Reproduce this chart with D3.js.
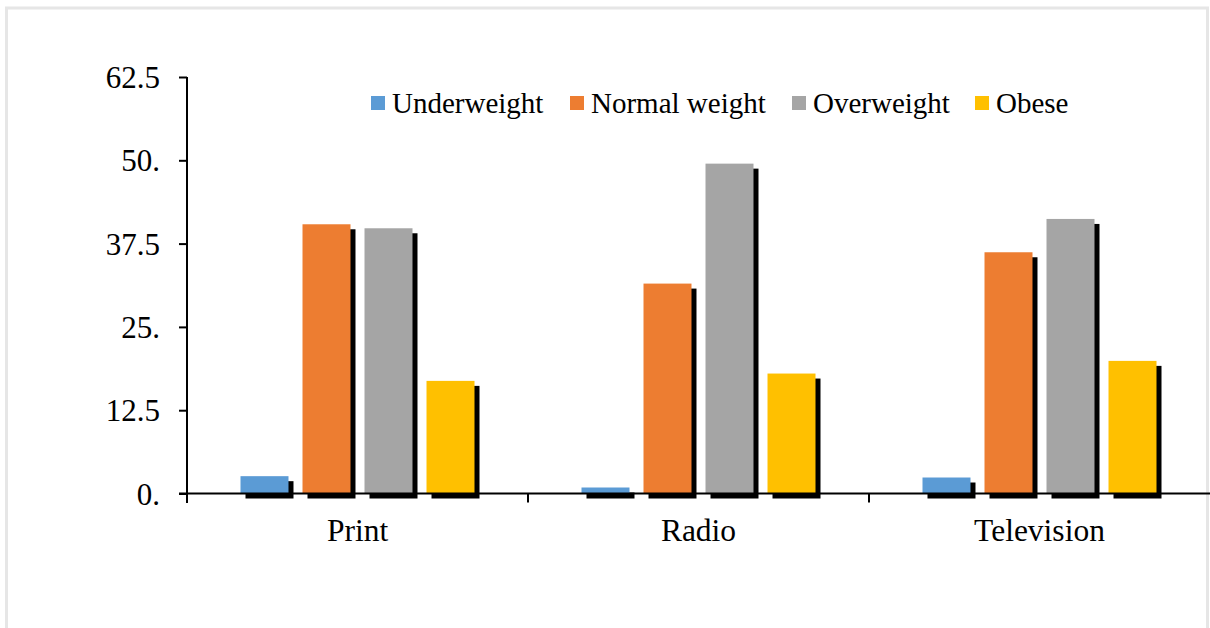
<!DOCTYPE html>
<html>
<head>
<meta charset="utf-8">
<script src="https://cdn.jsdelivr.net/npm/d3@7/dist/d3.min.js"></script>
<style>
  html, body { margin: 0; padding: 0; background: #fff; }
  svg { display: block; }
  text { font-family: "Liberation Serif", "Times New Roman", serif; fill: #000; }
</style>
</head>
<body>
<svg id="chart" width="1210" height="628"></svg>
<script>
const categories = ["Print", "Radio", "Television"];
const seriesNames = ["Underweight", "Normal weight", "Overweight", "Obese"];
const underweight = [2.6, 0.9, 2.4];
const normalWeight = [40.4, 31.5, 36.2];
const overweight = [39.8, 49.5, 41.2];
const obese = [16.9, 18.0, 19.9];
const seriesColors = ["#5B9BD5", "#ED7D31", "#A5A5A5", "#FFC000"];
const yTicks = [0, 12.5, 25, 37.5, 50, 62.5];
const yTickLabels = ["0.", "12.5", "25.", "37.5", "50.", "62.5"];

const seriesValues = [underweight, normalWeight, overweight, obese];

const svg = d3.select("#chart");

// outer frame
svg.append("rect")
  .attr("x", 6.5).attr("y", 8).attr("width", 1201).attr("height", 640)
  .attr("fill", "none").attr("stroke", "#e6e6e6").attr("stroke-width", 3);

const x0 = d3.scaleBand().domain(categories).range([187, 1210]).padding(0);
const innerW = 234;
const x1 = d3.scaleBand().domain(seriesNames)
  .range([(x0.bandwidth() - innerW) / 2, (x0.bandwidth() + innerW) / 2])
  .paddingInner(0.226).paddingOuter(0);
const y = d3.scaleLinear().domain([0, 62.5]).range([493.5, 77]);

const data = [];
categories.forEach((c, i) => {
  seriesNames.forEach((s, j) => {
    data.push({ cat: c, series: s, value: seriesValues[j][i], color: seriesColors[j] });
  });
});

const groups = svg.append("g");
const shadowOff = 5;
// shadows
groups.selectAll("rect.shadow").data(data).enter().append("rect")
  .attr("class", "shadow")
  .attr("x", d => x0(d.cat) + x1(d.series) + shadowOff)
  .attr("y", d => y(d.value) + shadowOff)
  .attr("width", x1.bandwidth())
  .attr("height", d => y(0) - y(d.value))
  .attr("fill", "#000");

// axes
const yAxis = d3.axisLeft(y).tickValues(yTicks)
  .tickFormat((d, i) => yTickLabels[i]).tickSize(8).tickPadding(19);
const gy = svg.append("g").attr("transform", "translate(187,0)").call(yAxis);
gy.select(".domain").remove();
gy.append("line").attr("x1", 0).attr("x2", 0).attr("y1", 77).attr("y2", 503)
  .attr("stroke", "#000").attr("stroke-width", 2);
gy.selectAll(".tick line").attr("stroke", "#000").attr("stroke-width", 2);
gy.selectAll(".tick text").attr("font-size", 31)
  .style("font-family", "'Liberation Serif', 'Times New Roman', serif").attr("fill", "#000")
  .attr("dy", "0.34em");

const xAxis = d3.axisBottom(x0).tickSize(0).tickPadding(25);
const gx = svg.append("g").attr("transform", `translate(0,${y(0)})`).call(xAxis);
gx.select(".domain").remove();
gx.selectAll(".tick text").attr("font-size", 31.5)
  .style("font-family", "'Liberation Serif', 'Times New Roman', serif").attr("fill", "#000");

// bars
groups.raise();
svg.selectAll("rect.bar").data(data).enter().append("rect")
  .attr("class", "bar")
  .attr("x", d => x0(d.cat) + x1(d.series))
  .attr("y", d => y(d.value))
  .attr("width", x1.bandwidth())
  .attr("height", d => y(0) - y(d.value))
  .attr("fill", d => d.color);

// x axis line and category boundary ticks
svg.append("line").attr("x1", 179).attr("x2", 1210).attr("y1", y(0)).attr("y2", y(0))
  .attr("stroke", "#000").attr("stroke-width", 2);
svg.selectAll("line.xtick").data(categories.slice(1)).enter().append("line")
  .attr("class", "xtick")
  .attr("x1", d => x0(d)).attr("x2", d => x0(d))
  .attr("y1", y(0)).attr("y2", y(0) + 9)
  .attr("stroke", "#000").attr("stroke-width", 2);

// legend
const legendX = [371, 570, 792, 975];
const legend = svg.append("g");
seriesNames.forEach((s, j) => {
  legend.append("rect").attr("x", legendX[j]).attr("y", 96).attr("width", 14).attr("height", 14)
    .attr("fill", seriesColors[j]);
  legend.append("text").attr("x", legendX[j] + 21).attr("y", 113)
    .attr("font-size", 29).text(s);
});
</script>
</body>
</html>
